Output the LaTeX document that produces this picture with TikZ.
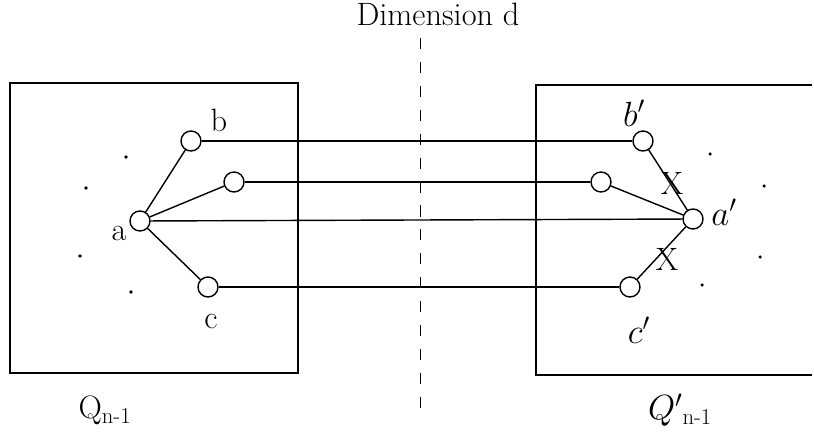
\documentclass[tikz,border=0pt]{standalone}
\usepackage{amsmath}
\usetikzlibrary{positioning}

\begin{document}
\begin{tikzpicture}[
    x=0.025cm, y=-0.025cm,
    vertex/.style={circle, draw, fill=white, line width=1pt, minimum size=0.5cm, inner sep=0pt},
    lbl/.style={font=\fontsize{23}{27}\selectfont, inner sep=1pt},
    cube/.style={line width=1pt},
    link/.style={line width=1pt},
    speck/.style={circle, fill, inner sep=0pt, minimum size=2.5pt}
]
\useasboundingbox (0,0) rectangle (814,433);

% Title and dimension cut
\node[lbl] (title) at (438,14) {Dimension d};
\coordinate (cuttop) at (420,38);
\coordinate (cutbot) at (420,412);
\draw[line width=0.7pt, dash pattern=on 8pt off 9pt] (cuttop) -- (cutbot);

% Subcubes
\draw[cube] (10,83) rectangle (298,373);
\draw[cube] (812,85) -- (536,85) -- (536,375) -- (812,375);
\node[lbl] (qleft) at (105,410) {Q$_{\text{n-1}}$};
\node[lbl] (qright) at (680,410) {$Q'{}_{\text{n-1}}$};

% Left subcube vertices
\node[vertex] (a) at (140,221) {};
\node[vertex] (b) at (191,141) {};
\node[vertex] (m) at (234,182) {};
\node[vertex] (c) at (208,287) {};
\node[lbl] at (219,120) {b};
\node[lbl] at (119,233) {a};
\node[lbl] at (211,321) {c};

% Right subcube vertices
\node[vertex] (a2) at (693,219) {};
\node[vertex] (b2) at (643,141) {};
\node[vertex] (m2) at (601,182) {};
\node[vertex] (c2) at (630,287) {};
\node[lbl] at (634,113) {$b'$};
\node[lbl] at (724,212) {$a'$};
\node[lbl] at (639,330) {$c'$};

% Other vertices
\foreach \px/\py in {126/157, 86/188, 80/256, 131/292, 710/154, 764/186, 760/257, 702/285}
    \node[speck] at (\px,\py) {};

% Edges inside subcubes
\draw[link] (a) -- (b);
\draw[link] (a) -- (m);
\draw[link] (a) -- (c);
\draw[link] (a2) -- (b2);
\draw[link] (a2) -- (m2);
\draw[link] (a2) -- (c2);

% Edges across dimension d
\draw[link] (b) -- (b2);
\draw[link] (m) -- (m2);
\draw[link] (a) -- (a2);
\draw[link] (c) -- (c2);

% Faulty links
\node[lbl] at (672,183) {X};
\node[lbl] at (667,259) {X};

\end{tikzpicture}
\end{document}
